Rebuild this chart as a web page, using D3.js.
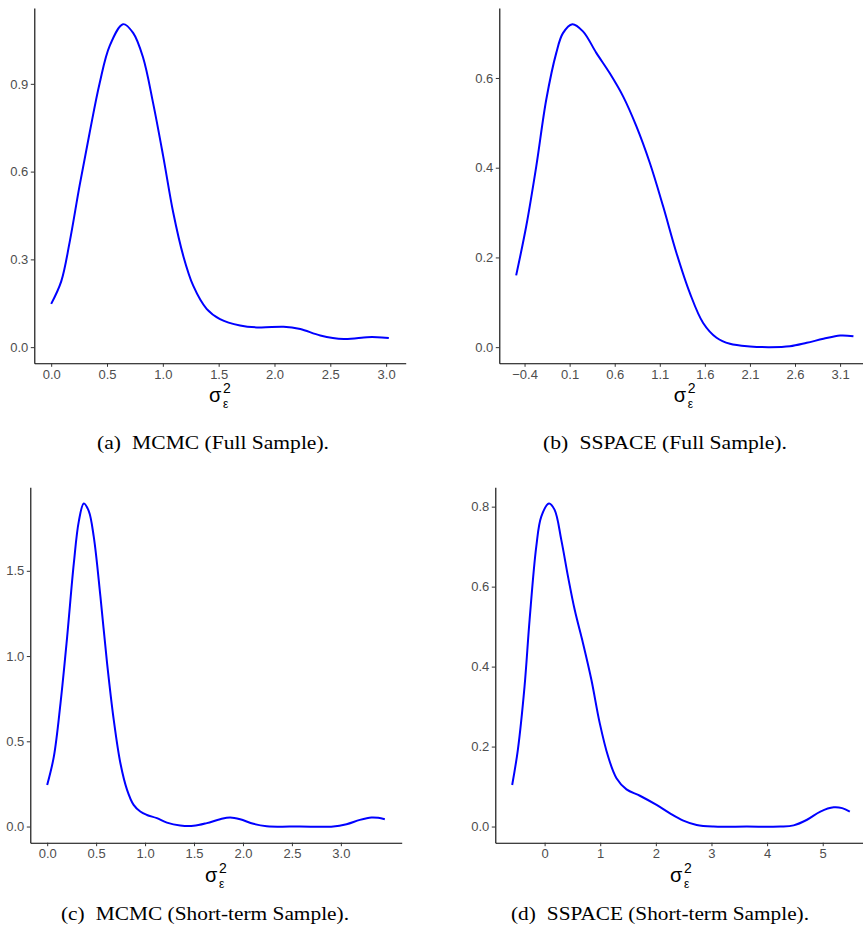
<!DOCTYPE html>
<html>
<head>
<meta charset="utf-8">
<script src="https://cdn.jsdelivr.net/npm/d3@7"></script>
<style>
  html, body { margin: 0; padding: 0; background: #fff; }
  svg { display: block; }
</style>
</head>
<body>
<svg id="chart" width="863" height="936"></svg>
<script>
// ---------- DATA ----------
const mcmcFullX = [0.00,0.09,0.165,0.254,0.344,0.434,0.524,0.644,0.734,0.823,0.913,1.003,1.093,1.183,1.272,1.392,1.512,1.692,1.871,2.081,2.231,2.410,2.620,2.829,2.919,3.024];
const mcmcFullY = [0.148,0.225,0.358,0.551,0.732,0.902,1.030,1.104,1.074,0.990,0.834,0.653,0.460,0.312,0.210,0.131,0.096,0.074,0.067,0.070,0.062,0.040,0.028,0.034,0.034,0.031];

const sspaceFullX = [-0.493,-0.381,-0.270,-0.159,-0.048,0.026,0.130,0.248,0.396,0.544,0.693,0.841,0.989,1.137,1.285,1.433,1.581,1.730,1.878,2.100,2.322,2.544,2.730,2.915,3.100,3.248];
const sspaceFullY = [0.160,0.270,0.403,0.552,0.656,0.700,0.720,0.704,0.656,0.611,0.559,0.492,0.411,0.314,0.210,0.121,0.054,0.021,0.0074,0.0015,0.000,0.002,0.0097,0.0186,0.026,0.0245];

const mcmcShortX = [0.00,0.068,0.136,0.204,0.272,0.323,0.374,0.425,0.476,0.544,0.612,0.680,0.748,0.816,0.883,0.951,1.019,1.121,1.223,1.359,1.495,1.631,1.767,1.869,1.971,2.107,2.243,2.582,2.922,3.058,3.194,3.313,3.381,3.449];
const mcmcShortY = [0.244,0.410,0.723,1.113,1.543,1.790,1.895,1.850,1.699,1.348,0.957,0.625,0.371,0.215,0.127,0.088,0.068,0.049,0.023,0.006,0.004,0.020,0.043,0.053,0.043,0.016,0.002,0.000,0.000,0.014,0.039,0.053,0.051,0.043];

const sspaceShortX = [-0.583,-0.481,-0.361,-0.270,-0.150,-0.060,0.078,0.180,0.300,0.421,0.541,0.691,0.841,0.992,1.142,1.292,1.472,1.713,2.013,2.254,2.494,2.734,3.035,3.636,4.237,4.477,4.718,4.958,5.198,5.349,5.487];
const sspaceShortY = [0.104,0.192,0.350,0.517,0.700,0.775,0.808,0.792,0.717,0.625,0.542,0.458,0.367,0.258,0.175,0.121,0.093,0.077,0.054,0.033,0.015,0.004,0.000,0.000,0.000,0.003,0.017,0.0375,0.048,0.046,0.0375];

const mcmcFullXTicks = [0, 0.5, 1, 1.5, 2, 2.5, 3];
const mcmcFullYTicks = [0, 0.3, 0.6, 0.9];
const sspaceFullXTicks = [-0.4, 0.1, 0.6, 1.1, 1.6, 2.1, 2.6, 3.1];
const sspaceFullYTicks = [0, 0.2, 0.4, 0.6];
const mcmcShortXTicks = [0, 0.5, 1, 1.5, 2, 2.5, 3];
const mcmcShortYTicks = [0, 0.5, 1, 1.5];
const sspaceShortXTicks = [0, 1, 2, 3, 4, 5];
const sspaceShortYTicks = [0, 0.2, 0.4, 0.6, 0.8];

const captionLabels = ["(a)", "(b)", "(c)", "(d)"];
const captionTexts = ["MCMC (Full Sample).", "SSPACE (Full Sample).", "MCMC (Short-term Sample).", "SSPACE (Short-term Sample)."];

// ---------- LAYOUT ----------
const panels = [
  {xs: mcmcFullX, ys: mcmcFullY, xt: mcmcFullXTicks, yt: mcmcFullYTicks, xf: d3.format(".1f"),
   left: 34.3, top: 8, w: 371.4, h: 355.3, capCx: 213, capW: 232, capY: 449},
  {xs: sspaceFullX, ys: sspaceFullY, xt: sspaceFullXTicks, yt: sspaceFullYTicks, xf: d3.format(".1f"),
   left: 499.3, top: 8, w: 371.0, h: 355.3, capCx: 665, capW: 244, capY: 449},
  {xs: mcmcShortX, ys: mcmcShortY, xt: mcmcShortXTicks, yt: mcmcShortYTicks, xf: d3.format(".1f"),
   left: 30.3, top: 487.3, w: 371.4, h: 355.4, capCx: 205, capW: 288, capY: 920},
  {xs: sspaceShortX, ys: sspaceShortY, xt: sspaceShortXTicks, yt: sspaceShortYTicks, xf: d3.format("d"),
   left: 495.3, top: 487.3, w: 371.4, h: 355.4, capCx: 660, capW: 298, capY: 920}
];

const svg = d3.select("#chart");
const fmtMinus = f => (v => f(v).replace("-", "\u2212"));

panels.forEach((p, i) => {
  const xExt = d3.extent(p.xs);
  const xPad = (xExt[1] - xExt[0]) * 0.05;
  const yMax = d3.max(p.ys);
  const yPad = yMax * 0.05;

  const x = d3.scaleLinear().domain([xExt[0] - xPad, xExt[1] + xPad]).range([p.left, p.left + p.w]);
  const y = d3.scaleLinear().domain([-yPad, yMax + yPad]).range([p.top + p.h, p.top]);

  const g = svg.append("g");

  // x axis
  const xAxis = g.append("g")
    .attr("transform", `translate(0,${p.top + p.h})`)
    .call(d3.axisBottom(x).tickValues(p.xt).tickFormat(fmtMinus(p.xf)).tickSize(3.5).tickPadding(2.5).tickSizeOuter(0));
  xAxis.select(".domain").attr("stroke", "#000").attr("stroke-width", 1.1);
  xAxis.selectAll(".tick line").attr("stroke", "#333").attr("stroke-width", 1);
  xAxis.selectAll(".tick text").attr("fill", "#4d4d4d")
    .style("font-family", "'Liberation Sans', Arial, sans-serif").style("font-size", "13px");

  // y axis
  const yAxis = g.append("g")
    .attr("transform", `translate(${p.left},0)`)
    .call(d3.axisLeft(y).tickValues(p.yt).tickFormat(d3.format(".1f")).tickSize(3.5).tickPadding(2.5).tickSizeOuter(0));
  yAxis.select(".domain").attr("stroke", "#000").attr("stroke-width", 1.1);
  yAxis.selectAll(".tick line").attr("stroke", "#333").attr("stroke-width", 1);
  yAxis.selectAll(".tick text").attr("fill", "#4d4d4d")
    .style("font-family", "'Liberation Sans', Arial, sans-serif").style("font-size", "13px");

  // density curve
  const pts = p.xs.map((v, k) => [v, p.ys[k]]);
  g.append("path")
    .datum(pts)
    .attr("fill", "none")
    .attr("stroke", "#0000ff")
    .attr("stroke-width", 2)
    .attr("stroke-linejoin", "round")
    .attr("d", d3.line().x(d => x(d[0])).y(d => y(d[1])).curve(d3.curveCatmullRom.alpha(0.5)));

  // axis title: sigma_epsilon^2
  const cx = p.left + p.w / 2;
  const base = p.top + p.h + 39;
  const tg = g.append("g").style("font-family", "'Liberation Sans', Arial, sans-serif").attr("fill", "#000");
  tg.append("text").attr("x", cx - 11).attr("y", base).style("font-size", "20px").text("\u03c3");
  tg.append("text").attr("x", cx + 3).attr("y", base - 9).style("font-size", "14px").text("2");
  tg.append("text").attr("x", cx + 3).attr("y", base + 6).style("font-size", "12px").text("\u03b5");

  // caption
  const cap = svg.append("text")
    .attr("x", p.capCx - p.capW / 2)
    .attr("y", p.capY)
    .attr("textLength", p.capW)
    .attr("lengthAdjust", "spacingAndGlyphs")
    .style("font-family", "'Liberation Serif', 'Times New Roman', serif")
    .style("font-size", "18.5px")
    .attr("fill", "#000")
    .style("white-space", "pre")
    .attr("xml:space", "preserve");
  cap.append("tspan").text(captionLabels[i]);
  cap.append("tspan").attr("dx", 5).text(" " + captionTexts[i]);
});
</script>
</body>
</html>
